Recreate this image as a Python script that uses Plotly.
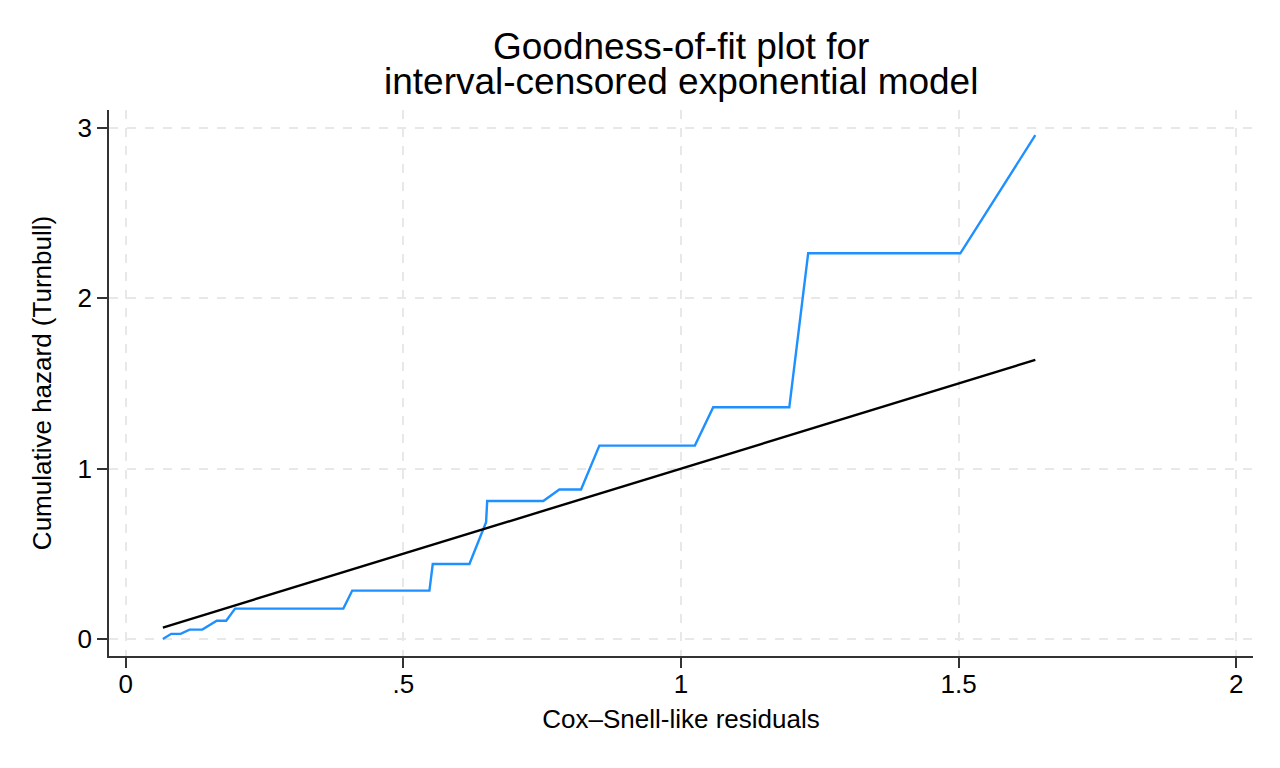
import plotly.graph_objects as go

# Turnbull cumulative hazard vs Cox-Snell-like residuals
resid = [0.067, 0.082, 0.099, 0.115, 0.138, 0.164, 0.181, 0.197, 0.392, 0.408,
         0.547, 0.553, 0.619, 0.649, 0.651, 0.752, 0.781, 0.820, 0.853, 1.025,
         1.058, 1.195, 1.229, 1.503, 1.638]
cumhaz = [0.0, 0.03, 0.03, 0.055, 0.055, 0.107, 0.107, 0.178, 0.178, 0.284,
          0.284, 0.44, 0.44, 0.685, 0.81, 0.81, 0.877, 0.877, 1.135, 1.135,
          1.36, 1.36, 2.264, 2.264, 2.957]

# reference line (45 degrees)
ref_x = [0.067, 1.638]
ref_y = [0.067, 1.638]

x_ticks = [0, 0.5, 1, 1.5, 2]
x_labels = ["0", ".5", "1", "1.5", "2"]
y_ticks = [0, 1, 2, 3]
y_labels = ["0", "1", "2", "3"]

title_lines = ["Goodness-of-fit plot for", "interval-censored exponential model"]

font = "Liberation Sans, Arial, sans-serif"

fig = go.Figure()
fig.add_trace(go.Scatter(x=resid, y=cumhaz, mode="lines",
                         line=dict(color="#1e90ff", width=2.4), showlegend=False))
fig.add_trace(go.Scatter(x=ref_x, y=ref_y, mode="lines",
                         line=dict(color="black", width=2.4), showlegend=False))

axis_common = dict(showline=True, linecolor="#333333", linewidth=1.5,
                   ticks="outside", ticklen=10, tickcolor="#333333", tickwidth=1.5,
                   showgrid=True, gridcolor="#e8e8e8", gridwidth=1.5, griddash="dash",
                   zeroline=False, tickfont=dict(size=26, color="black", family=font))

fig.update_layout(
    width=1280, height=768,
    paper_bgcolor="white", plot_bgcolor="white",
    margin=dict(l=101, r=35, t=102, b=120),
    font=dict(family=font, color="black"),
    xaxis=dict(axis_common, range=[-0.03, 2.03], tickvals=x_ticks, ticktext=x_labels,
               ticklabelstandoff=-6,
               title=dict(text="Cox–Snell-like residuals", font=dict(size=26), standoff=12)),
    yaxis=dict(axis_common, range=[-0.1, 3.105], tickvals=y_ticks, ticktext=y_labels,
               title=dict(text="Cumulative hazard (Turnbull)", font=dict(size=26), standoff=18)),
)

# two-line title with the tight line spacing of the original
for text, ypos in zip(title_lines, [1.1154, 1.0531]):
    fig.add_annotation(text=text, xref="paper", yref="paper", x=0.5, y=ypos,
                       xanchor="center", yanchor="middle", showarrow=False,
                       font=dict(size=37, color="black", family=font))

fig.write_html("out.html")
